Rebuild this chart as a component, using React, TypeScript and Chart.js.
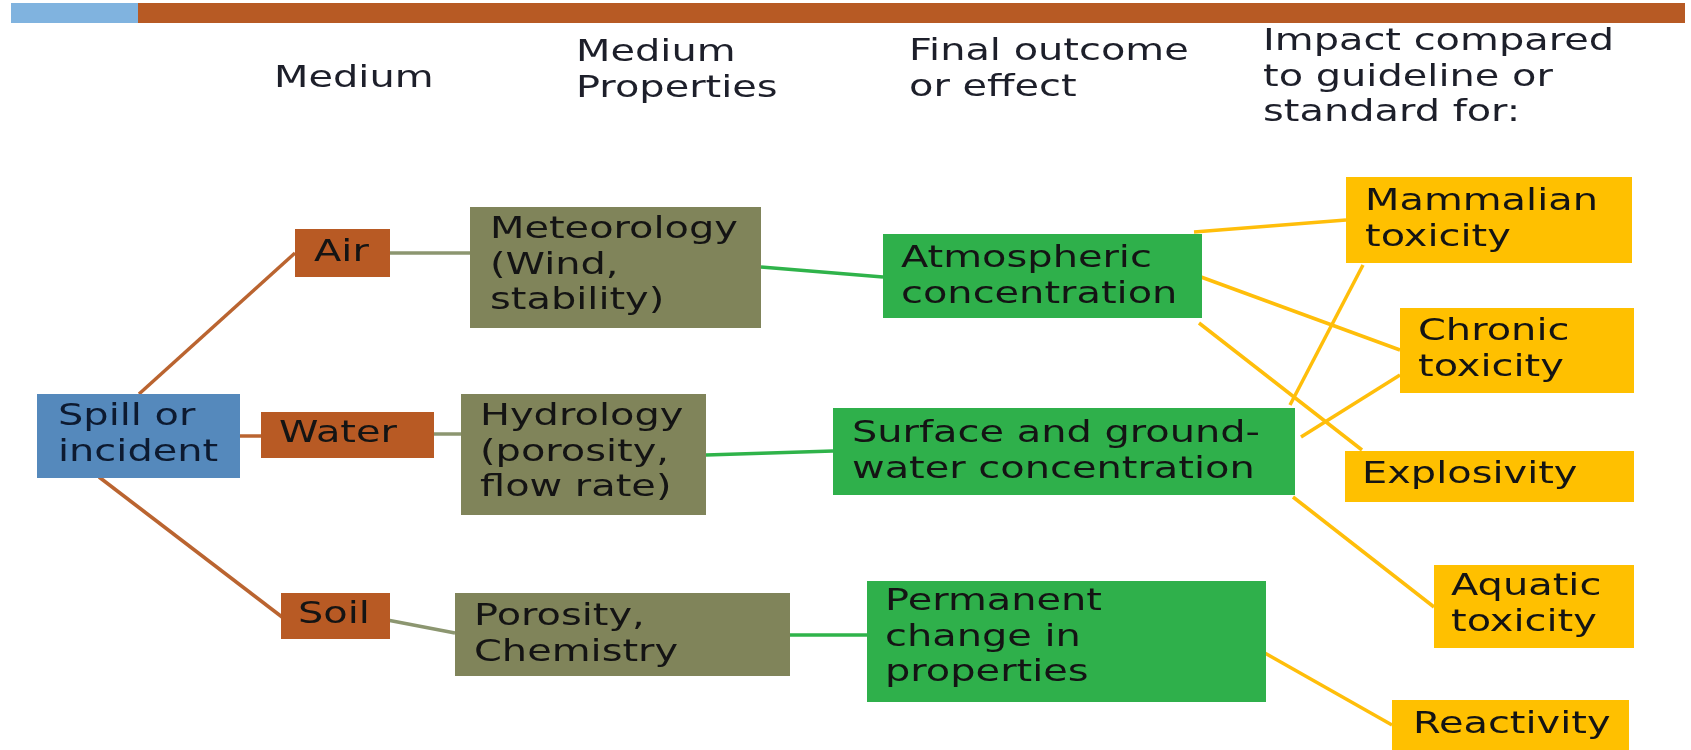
import React, { useEffect, useRef } from "react";
import { Chart, registerables } from "chart.js";

Chart.register(...registerables);

const W = 1691;
const H = 750;

// Header columns
const headerLines: string[][] = [
  ["Medium"],
  ["Medium", "Properties"],
  ["Final outcome", "or effect"],
  ["Impact compared", "to guideline or", "standard for:"],
];
const headerX = [274, 576, 909, 1263];
const headerFirstBaseline = [87, 61, 60, 50];

// Top band segments
const bandLeft = [11, 138];
const bandRight = [138, 1685];
const bandTop = 3;
const bandBottom = 23;
const bandKind = ["band1", "band2"];

// Nodes of the diagram
const nodeText: string[][] = [
  ["Spill or", "incident"],
  ["Air"],
  ["Water"],
  ["Soil"],
  ["Meteorology", "(Wind,", "stability)"],
  ["Hydrology", "(porosity,", "flow rate)"],
  ["Porosity,", "Chemistry"],
  ["Atmospheric", "concentration"],
  ["Surface and ground-", "water concentration"],
  ["Permanent", "change in", "properties"],
  ["Mammalian", "toxicity"],
  ["Chronic", "toxicity"],
  ["Explosivity"],
  ["Aquatic", "toxicity"],
  ["Reactivity"],
];
const nodeLeft = [37, 295, 261, 281, 470, 461, 455, 883, 833, 867, 1346, 1400, 1345, 1434, 1392];
const nodeRight = [240, 390, 434, 390, 761, 706, 790, 1202, 1295, 1266, 1632, 1634, 1634, 1634, 1629];
const nodeTop = [394, 229, 412, 593, 207, 394, 593, 234, 408, 581, 177, 308, 451, 565, 700];
const nodeBottom = [478, 277, 458, 639, 328, 515, 676, 318, 495, 702, 263, 393, 502, 648, 752];
const nodeFirstBaseline = [425, 261, 442, 623, 238, 425, 625, 267, 442, 610, 210, 340, 483, 595, 733];
const nodeTextLeft = [58, 314, 279, 298, 490, 480, 474, 901, 852, 885, 1365, 1418, 1362, 1451, 1413];
const nodeKind = [
  "spill", "medium", "medium", "medium",
  "property", "property", "property",
  "outcome", "outcome", "outcome",
  "impact", "impact", "impact", "impact", "impact",
];

// Connectors
const edgeX1 = [139, 238, 99, 390, 434, 382, 761, 706, 790, 1194, 1201, 1199, 1363, 1301, 1293, 1263];
const edgeY1 = [394, 436, 477, 253, 434, 619, 267, 455, 635, 232, 277, 323, 265, 437, 497, 652];
const edgeX2 = [295, 261, 282, 470, 461, 455, 883, 833, 867, 1346, 1400, 1362, 1290, 1400, 1434, 1392];
const edgeY2 = [253, 436, 617, 253, 434, 633, 277, 451, 635, 220, 350, 450, 405, 375, 607, 725];
const edgeKind = [
  "medium", "medium", "medium",
  "property", "property", "property",
  "outcome", "outcome", "outcome",
  "impact", "impact", "impact", "impact", "impact", "impact", "impact",
];

const fillColors: Record<string, string> = {
  band1: "#80B3DF",
  band2: "#B75A24",
  spill: "#5589BC",
  medium: "#B85A24",
  property: "#80845A",
  outcome: "#2FB04B",
  impact: "#FFC000",
};
const lineColors: Record<string, string> = {
  medium: "#BA6430",
  property: "#8C9670",
  outcome: "#2FB34A",
  impact: "#FFBE0A",
};

const FONT = '30px "DejaVu Sans"';
const STRETCH = 1.33;
const LINE_STEP = 35.5;

function drawStretched(ctx: CanvasRenderingContext2D, text: string, x: number, y: number) {
  ctx.save();
  ctx.translate(x, y);
  ctx.scale(STRETCH, 1);
  ctx.fillText(text, 0, 0);
  ctx.restore();
}

const diagramPlugin = {
  id: "diagram",
  beforeDatasetsDraw(chart: any) {
    const ctx = chart.ctx as CanvasRenderingContext2D;
    const xs = chart.scales.x;
    const ys = chart.scales.y;
    ctx.save();
    for (let i = 0; i < bandLeft.length; i++) {
      const x0 = xs.getPixelForValue(bandLeft[i]);
      const x1 = xs.getPixelForValue(bandRight[i]);
      const y0 = ys.getPixelForValue(bandTop);
      const y1 = ys.getPixelForValue(bandBottom);
      ctx.fillStyle = fillColors[bandKind[i]];
      ctx.fillRect(x0, y0, x1 - x0, y1 - y0);
    }
    ctx.font = FONT;
    ctx.fillStyle = "#1d1f2a";
    ctx.textBaseline = "alphabetic";
    ctx.textAlign = "left";
    for (let i = 0; i < headerLines.length; i++) {
      headerLines[i].forEach((line, j) => {
        drawStretched(
          ctx,
          line,
          xs.getPixelForValue(headerX[i]),
          ys.getPixelForValue(headerFirstBaseline[i] + j * LINE_STEP)
        );
      });
    }
    ctx.restore();
  },
  afterDatasetsDraw(chart: any) {
    const ctx = chart.ctx as CanvasRenderingContext2D;
    const xs = chart.scales.x;
    const ys = chart.scales.y;
    ctx.save();
    for (let i = 0; i < nodeText.length; i++) {
      const x0 = xs.getPixelForValue(nodeLeft[i]);
      const x1 = xs.getPixelForValue(nodeRight[i]);
      const y0 = ys.getPixelForValue(nodeTop[i]);
      const y1 = ys.getPixelForValue(nodeBottom[i]);
      ctx.fillStyle = fillColors[nodeKind[i]];
      ctx.fillRect(x0, y0, x1 - x0, y1 - y0);
    }
    ctx.font = FONT;
    ctx.textBaseline = "alphabetic";
    ctx.textAlign = "left";
    for (let i = 0; i < nodeText.length; i++) {
      ctx.fillStyle = nodeKind[i] === "spill" ? "#0d1a30" : "#141414";
      nodeText[i].forEach((line, j) => {
        drawStretched(
          ctx,
          line,
          xs.getPixelForValue(nodeTextLeft[i]),
          ys.getPixelForValue(nodeFirstBaseline[i] + j * LINE_STEP)
        );
      });
    }
    ctx.restore();
  },
};

export default function App() {
  const canvasRef = useRef<HTMLCanvasElement | null>(null);

  useEffect(() => {
    const canvas = canvasRef.current;
    if (!canvas) return;
    const datasets = edgeX1.map((_, i) => ({
      label: "edge" + i,
      data: [
        { x: edgeX1[i], y: edgeY1[i] },
        { x: edgeX2[i], y: edgeY2[i] },
      ],
      showLine: true,
      borderColor: lineColors[edgeKind[i]],
      backgroundColor: lineColors[edgeKind[i]],
      borderWidth: 3.5,
      pointRadius: 0,
      pointHoverRadius: 0,
      fill: false,
      tension: 0,
    }));
    const chart = new Chart(canvas, {
      type: "scatter",
      data: { datasets },
      options: {
        animation: false,
        responsive: false,
        maintainAspectRatio: false,
        devicePixelRatio: 1,
        layout: { padding: 0 },
        events: [],
        plugins: {
          legend: { display: false },
          tooltip: { enabled: false },
          title: { display: false },
        },
        scales: {
          x: { type: "linear", min: 0, max: W, display: false },
          y: { type: "linear", min: 0, max: H, reverse: true, display: false },
        },
      },
      plugins: [diagramPlugin],
    });
    return () => chart.destroy();
  }, []);

  return (
    <div style={{ position: "fixed", left: 0, top: 0, width: W, height: H, background: "#ffffff" }}>
      <canvas ref={canvasRef} width={W} height={H} style={{ width: W, height: H, display: "block" }} />
    </div>
  );
}
